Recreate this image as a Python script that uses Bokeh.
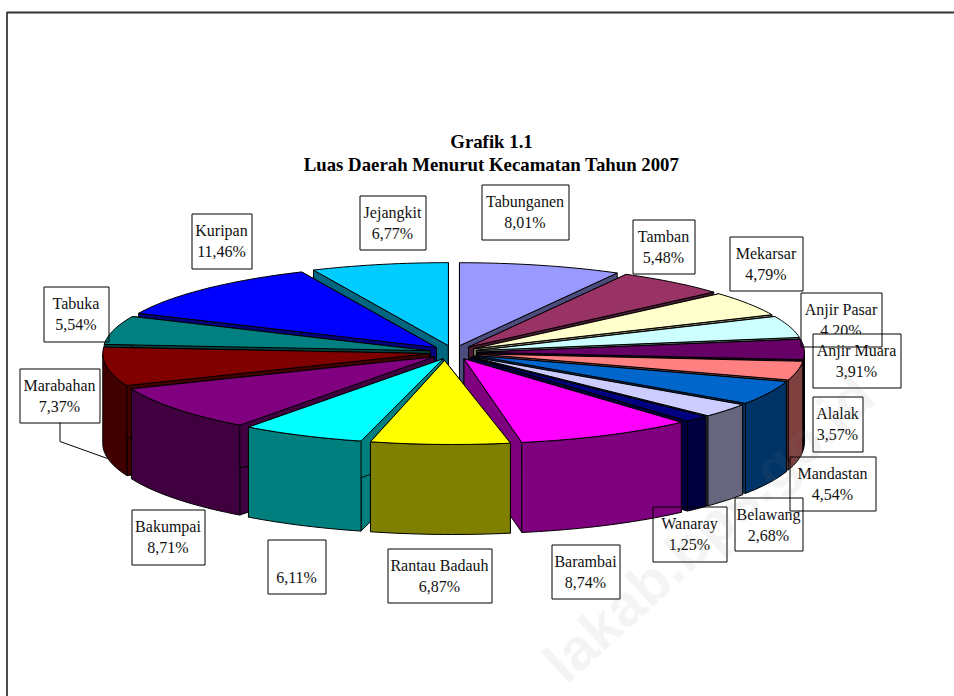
import math
from bokeh.plotting import figure
from bokeh.models import Range1d
from bokeh.core.properties import value
from bokeh.embed import file_html
from bokeh.resources import INLINE

# ---- data ----
names = ["Tabunganen", "Tamban", "Mekarsar", "Anjir Pasar", "Anjir Muara", "Alalak", "Mandastan",
         "Belawang", "Wanaray", "Barambai", "Rantau Badauh", "", "Bakumpai", "Marabahan",
         "Tabuka", "Kuripan", "Jejangkit"]
shares = [8.01, 5.48, 4.79, 4.20, 3.91, 3.57, 4.54, 2.68, 1.25, 8.74, 6.87, 6.11, 8.71, 7.37,
          5.54, 11.46, 6.77]
share_labels = ["8,01%", "5,48%", "4,79%", "4,20%", "3,91%", "3,57%", "4,54%", "2,68%", "1,25%",
                "8,74%", "6,87%", "6,11%", "8,71%", "7,37%", "5,54%", "11,46%", "6,77%"]
top_colors = ["#9999FF", "#993366", "#FFFFCC", "#CCFFFF", "#660066", "#FF8080", "#0066CC", "#CCCCFF",
              "#000080", "#FF00FF", "#FFFF00", "#00FFFF", "#800080", "#800000", "#008080", "#0000FF",
              "#00CCFF"]

# ---- layout (page pixels) ----
label_boxes = [(481, 184, 568, 239), (632, 219, 694, 273), (729, 236, 802, 290), (800, 292, 881, 346),
               (812, 333, 900, 387), (812, 396, 862, 451), (789, 456, 875, 510), (734, 497, 802, 550),
               (652, 506, 726, 561), (551, 544, 619, 598), (387, 548, 491, 602), (267, 539, 325, 593),
               (131, 509, 204, 564), (19, 368, 99, 422), (43, 286, 108, 341), (191, 213, 251, 268),
               (359, 195, 425, 249)]
CX, CY = 453, 352
RX = 327
RY_BACK, RY_FRONT = 83, 85
EX, EY = 24, 7
DEPTH = 90
APEX_SHIFT = {"Rantau Badauh": (-8, 1)}
FONT = value("Liberation Serif")

p = figure(width=954, height=696, output_backend="svg", toolbar_location=None,
           x_range=Range1d(0, 954), y_range=Range1d(696, 0), min_border=0,
           x_axis_type=None, y_axis_type=None)
p.grid.visible = False
p.outline_line_color = None
p.background_fill_color = "white"
p.styles = {"position": "absolute", "left": "0px", "top": "0px"}


def darker(c):
    r, g, b = int(c[1:3], 16) // 2, int(c[3:5], 16) // 2, int(c[5:7], 16) // 2
    return f"#{r:02X}{g:02X}{b:02X}"


def box(b, fill=True, line=True):
    x0, y0, x1, y1 = b
    p.quad(left=[x0 + .5], right=[x1 + .5], top=[y0 + .5], bottom=[y1 + .5],
           fill_color="white" if fill else None, line_color="black" if line else None, line_width=1)


PASAR, MUARA = names.index("Anjir Pasar"), names.index("Anjir Muara")

# label fills sit under the pie
for i, b in enumerate(label_boxes):
    if i != MUARA:
        box(b, line=False)

# Marabahan leader
p.line([59.5, 59.5, 107], [422, 441, 458], line_color="black", line_width=1)

# slices
total = sum(shares)
slices = []
acc = 0.0
for i, s in enumerate(shares):
    a0 = acc / total * 2 * math.pi
    acc += s
    a1 = acc / total * 2 * math.pi
    slices.append((i, a0, a1))


def pt(ax, ay, ang):
    c = math.cos(ang)
    return ax + RX * math.sin(ang), ay - (RY_BACK if c > 0 else RY_FRONT) * c


for i, a0, a1 in sorted(slices, key=lambda t: -math.cos((t[1] + t[2]) / 2)):
    mid = (a0 + a1) / 2
    ax = CX + EX * math.sin(mid)
    ay = CY - EY * math.cos(mid)
    sx, sy = APEX_SHIFT.get(names[i], (0, 0))
    tipx, tipy = ax + sx, ay + sy
    top = top_colors[i]
    side = darker(top)
    # cut faces
    for ang in (a0, a1):
        ex, ey = pt(ax, ay, ang)
        p.patch([tipx, ex, ex, tipx], [tipy, ey, ey + DEPTH, tipy + DEPTH],
                fill_color=side, line_color="black", line_width=1)
    # outer wall (front half only)
    w0, w1 = max(a0, math.pi / 2), min(a1, 3 * math.pi / 2)
    if w1 > w0:
        n = max(3, int((w1 - w0) * 40))
        arc = [pt(ax, ay, w0 + (w1 - w0) * k / n) for k in range(n + 1)]
        xs = [q[0] for q in arc] + [q[0] for q in reversed(arc)]
        ys = [q[1] for q in arc] + [q[1] + DEPTH for q in reversed(arc)]
        p.patch(xs, ys, fill_color=side, line_color="black", line_width=1)
    # top face
    n = max(3, int((a1 - a0) * 40))
    arc = [pt(ax, ay, a0 + (a1 - a0) * k / n) for k in range(n + 1)]
    p.patch([tipx] + [q[0] for q in arc], [tipy] + [q[1] for q in arc],
            fill_color=top, line_color="black", line_width=1)


def label_text(i):
    x0, y0, x1, y1 = label_boxes[i]
    xc = (x0 + x1) / 2
    p.text([xc], [y0 + 16.5], text=[names[i]], text_font=FONT, text_font_size="16px",
           text_align="center", text_baseline="middle", text_color="#111111")
    p.text([xc], [y0 + 37.5], text=[share_labels[i]], text_font=FONT, text_font_size="16px",
           text_align="center", text_baseline="middle", text_color="#111111")


# Anjir Pasar's percentage is masked by the Anjir Muara box
label_text(PASAR)
box(label_boxes[MUARA], line=False)
for i, b in enumerate(label_boxes):
    box(b, fill=False)
for i in range(len(names)):
    if i != PASAR:
        label_text(i)

# title
p.text([491], [141], text=["Grafik 1.1"], text_font=FONT, text_font_size="18.8px",
       text_font_style="bold", text_align="center", text_baseline="middle", text_color="black")
p.text([491], [164], text=["Luas Daerah Menurut Kecamatan Tahun 2007"], text_font=FONT,
       text_font_size="18.8px", text_font_style="bold", text_align="center", text_baseline="middle",
       text_color="black")

# frame
p.line([6.5, 6.5], [12, 696], line_color="#111111", line_width=1.5)
p.line([6, 954], [12, 12], line_color="#333333", line_width=2)

# watermark
p.text([552], [670], text=["lakab.bps.go.id"], text_font=value("Liberation Sans"), text_font_size="58px",
       text_font_style="bold", angle=0.74, text_align="left", text_baseline="middle",
       text_color="#808080", text_alpha=0.09)

open("out.html", "w").write(file_html(p, INLINE))
